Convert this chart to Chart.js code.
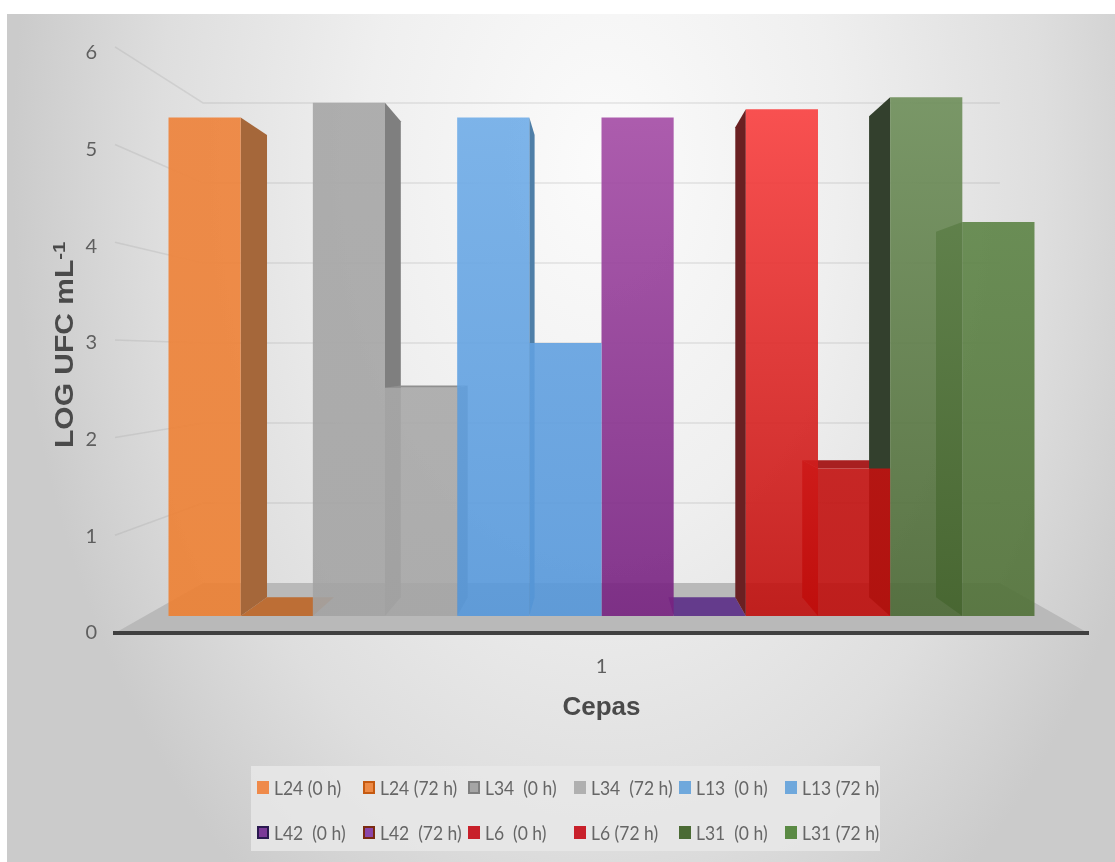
<!DOCTYPE html>
<html lang="es">
<head>
<meta charset="utf-8">
<title>LOG UFC mL-1 por cepa</title>
<script src="https://cdn.jsdelivr.net/npm/chart.js@4"></script>
<style>
    html, body { margin: 0; padding: 0; background: #fff; overflow: hidden; }
    #panel {
        position: absolute; left: 7px; top: 14px; width: 1108px; height: 848px;
        background: radial-gradient(ellipse 590px 900px at 595px 150px, #fbfbfb 0%, #efefef 40%, #dedede 75%, #cbcbcb 100%);
    }
    #cepasChart { position: absolute; left: 0; top: 0; }
    #legend {
        position: absolute; left: 251px; top: 766px; width: 629px; height: 85px;
        background: rgba(232,232,232,0.85);
        display: grid; grid-template-columns: repeat(6, 105.6px); grid-template-rows: 45px 45px;
        padding: 2px 0 0 6px; box-sizing: border-box; align-content: center;
    }
    .item { display: flex; align-items: center; white-space: pre; font: 19px Lato, sans-serif; color: #666; }
    .swatch { width: 12px; height: 13px; margin-right: 5px; box-sizing: border-box; flex: none; }
    .text { display: inline-block; transform: scaleX(0.92); transform-origin: left center; }
</style>
</head>
<body>
<div id="panel"></div>
<canvas id="cepasChart" width="1115" height="862"></canvas>
<div id="legend"></div>
<script>
const categories = ["1"];
const seriesNames = [
    "L24 (0 h)", "L24 (72 h)", "L34  (0 h)", "L34  (72 h)", "L13  (0 h)", "L13 (72 h)",
    "L42  (0 h)", "L42  (72 h)", "L6  (0 h)", "L6 (72 h)", "L31  (0 h)", "L31 (72 h)",
];
const seriesValues = [5.44, 0, 5.60, 2.49, 5.44, 2.98, 5.44, 0, 5.53, 1.61, 5.66, 4.30];
const yTickValues = [0, 1, 2, 3, 4, 5, 6];

// front face colours, top and bottom of each bar
const frontTop = [
    "rgba(238,129,57,0.9)", "rgba(237,125,49,0.9)", "rgba(166,166,166,0.9)", "rgba(172,172,172,0.9)",
    "rgba(115,175,233,0.9)", "rgba(110,170,230,0.9)", "rgba(169,80,169,0.9)", "rgba(112,48,160,0.9)",
    "rgba(255,68,68,0.9)", "rgba(205,28,28,0.9)", "rgba(112,145,92,0.9)", "rgba(98,140,76,0.9)",
];
const frontBottom = [
    "rgba(237,128,50,0.9)", "rgba(237,125,49,0.9)", "rgba(163,163,163,0.9)", "rgba(165,165,165,0.9)",
    "rgba(85,151,218,0.9)", "rgba(85,151,218,0.9)", "rgba(117,32,127,0.9)", "rgba(112,48,160,0.9)",
    "rgba(190,13,11,0.9)", "rgba(190,13,11,0.9)", "rgba(74,103,51,0.9)", "rgba(80,112,55,0.9)",
];
const sideColors = [
    "#a5673a", "#a5673a", "#7f7f7f", "#8a8a8a", "#4f7fa8", "#4f7fa8",
    "#6b3a78", "#6b3a78", "#6a2022", "#b00808", "#33402d", "#2f5a1c",
];
const topColors = [
    "#bd6e35", "#bd6e35", "#8f8f8f", "#8f8f8f", "#5e94c8", "#5e94c8",
    "#643b8c", "#643b8c", "#a82020", "#a82020", "#4a6a34", "#4a6a34",
];
const legendBorders = [
    "#ef8a4a", "#c55a11", "#7f7f7f", "#b0b0b0", "#6fa8dc", "#6fa8dc",
    "#2a1a50", "#7a2a10", "#c8202a", "#c8202a", "#4b6b35", "#5a8a44",
];
const legendFills = [
    "#ef8a4a", "#ed8a45", "#a5a5a5", "#b0b0b0", "#6fa8dc", "#6fa8dc",
    "#7a3a98", "#8a45a8", "#c8202a", "#c8202a", "#4b6b35", "#5a8a44",
];

// perspective of the box: vanishing point above the axis, depth of bars and back wall
const VANISH_RISE = 276;
const BAR_DEPTH = 0.073;
const WALL_DEPTH = 0.181;

function towards(px, py, vp, t) {
    return { x: px + (vp.x - px) * t, y: py + (vp.y - py) * t };
}

function polygon(ctx, pts, fill) {
    ctx.beginPath();
    pts.forEach((p, i) => (i ? ctx.lineTo(p.x, p.y) : ctx.moveTo(p.x, p.y)));
    ctx.closePath();
    ctx.fillStyle = fill;
    ctx.fill();
}

const boxPlugin = {
    id: "box3d",
    beforeDatasetsDraw(chart) {
        const { ctx, chartArea: a, scales } = chart;
        const vp = { x: (a.left + a.right) / 2, y: a.bottom - VANISH_RISE };
        ctx.save();

        // back wall and left wall gridlines
        ctx.strokeStyle = "rgba(150,150,150,0.22)";
        ctx.lineWidth = 1.5;
        yTickValues.slice(1).forEach((v) => {
            const wy = scales.yWall.getPixelForValue(v);
            const frontY = vp.y + (wy - vp.y) / (1 - WALL_DEPTH);
            const backLeft = towards(a.left, frontY, vp, WALL_DEPTH);
            ctx.beginPath();
            ctx.moveTo(a.left, frontY);
            ctx.lineTo(backLeft.x, wy);
            ctx.lineTo(a.right - (backLeft.x - a.left), wy);
            ctx.stroke();
        });

        // floor
        const fl = towards(a.left, a.bottom, vp, WALL_DEPTH);
        const fr = towards(a.right, a.bottom, vp, WALL_DEPTH);
        polygon(ctx, [{ x: a.left, y: a.bottom }, { x: a.right, y: a.bottom }, fr, fl], "#b9b9b9");

        // side and top faces of every bar
        chart.data.datasets.forEach((ds, i) => {
            const bar = chart.getDatasetMeta(i).data[0];
            const l = bar.x - bar.width / 2;
            const r = bar.x + bar.width / 2;
            const nearX = r <= vp.x ? r : l;
            const topB = towards(nearX, bar.y, vp, BAR_DEPTH);
            const baseB = towards(nearX, bar.base, vp, BAR_DEPTH);
            polygon(ctx, [{ x: nearX, y: bar.y }, topB, baseB, { x: nearX, y: bar.base }], sideColors[i]);
            if (bar.y > vp.y) {
                polygon(ctx, [
                    { x: l, y: bar.y }, { x: r, y: bar.y },
                    towards(r, bar.y, vp, BAR_DEPTH), towards(l, bar.y, vp, BAR_DEPTH),
                ], topColors[i]);
            }
        });
        ctx.restore();
    },
    afterDraw(chart) {
        // rotated axis title, stretched along its length, with the superscript exponent
        const { ctx } = chart;
        ctx.save();
        ctx.translate(66, 448);
        ctx.rotate(-Math.PI / 2);
        ctx.scale(1.2, 1);
        ctx.fillStyle = "#4a4a4a";
        ctx.textBaseline = "middle";
        ctx.textAlign = "left";
        ctx.font = "bold 25px 'Liberation Sans', sans-serif";
        const main = "LOG UFC mL";
        ctx.fillText(main, 0, 0);
        const w = ctx.measureText(main).width;
        ctx.font = "bold 17px 'Liberation Sans', sans-serif";
        ctx.fillText("-1", w, -6);
        ctx.restore();
    },
};

const datasets = seriesNames.map((name, i) => ({
    label: name,
    data: [seriesValues[i]],
    yAxisID: "yBars",
    backgroundColor(c) {
        const area = c.chart.chartArea;
        if (!area) return frontBottom[i];
        const g = c.chart.ctx.createLinearGradient(0, area.top, 0, area.bottom);
        g.addColorStop(0, frontTop[i]);
        g.addColorStop(1, frontBottom[i]);
        return g;
    },
    borderWidth: 0,
}));

const tickFont = { family: "Lato, sans-serif", size: 20 };

new Chart(document.getElementById("cepasChart"), {
    type: "bar",
    data: { labels: categories, datasets },
    options: {
        responsive: false,
        animation: false,
        layout: { padding: { top: 53, right: 27, bottom: 139, left: 0 } },
        datasets: { bar: { categoryPercentage: 0.89, barPercentage: 1 } },
        plugins: { legend: { display: false }, tooltip: { enabled: false } },
        scales: {
            x: {
                grid: { display: false, drawTicks: false },
                border: { display: true, color: "#404040", width: 4, z: 1 },
                afterFit(scale) { scale.height = 90; },
                ticks: { color: "#5f5f5f", padding: 22, font: tickFont },
                title: {
                    display: true, text: "Cepas", color: "#4a4a4a", padding: 0,
                    font: { family: "'Liberation Sans', sans-serif", size: 26, weight: "bold" },
                },
            },
            y: {
                min: 0, max: 6,
                afterFit(scale) { scale.width = 115; },
                afterBuildTicks(scale) { scale.ticks = yTickValues.map((value) => ({ value })); },
                grid: { display: false, drawTicks: false },
                border: { display: false },
                ticks: { color: "#5f5f5f", padding: 18, font: tickFont },
            },
            // hidden axes: plane of the bar fronts and plane of the back wall
            yBars: { display: false, min: -0.185, max: 6.143 },
            yWall: { display: false, min: -0.625, max: 6.625 },
        },
    },
    plugins: [boxPlugin],
});

// two-row legend with evenly spaced columns
const legendBox = document.getElementById("legend");
seriesNames.forEach((name, i) => {
    const item = document.createElement("div");
    item.className = "item";
    const swatch = document.createElement("span");
    swatch.className = "swatch";
    swatch.style.background = legendFills[i];
    swatch.style.border = "2px solid " + legendBorders[i];
    const text = document.createElement("span");
    text.className = "text";
    text.textContent = name;
    item.append(swatch, text);
    legendBox.append(item);
});
</script>
</body>
</html>
